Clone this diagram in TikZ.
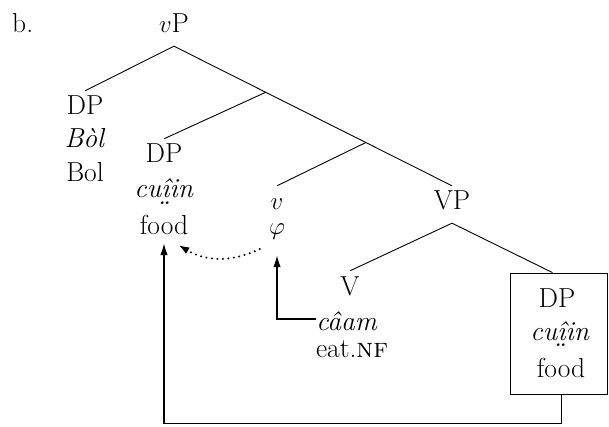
\documentclass[tikz,border=0pt]{standalone}
\usepackage{fontspec}
\usetikzlibrary{arrows.meta}
\usetikzlibrary{calc}

% breathy vowel: two dots below
\newcommand{\brth}[1]{\ooalign{#1\cr\hidewidth\raisebox{-6.5pt}{.\kern-3.2pt.}\kern2pt\hidewidth\cr}}

\begin{document}
\begin{tikzpicture}[x=1pt,y=-1pt,
	cat/.style={inner sep=0pt,text height=24pt,text depth=13pt,font=\fontsize{27.5}{32}\selectfont},
	word/.style={inner sep=0pt,text height=18pt,text depth=8pt,font=\fontsize{27.5}{32}\selectfont},
	branch/.style={line width=0.9pt},
	move/.style={line width=1.5pt,-{Latex[length=12pt,width=7.5pt]}},
	dots/.style={line width=2.2pt,line cap=round,dash pattern=on 0pt off 5.5pt,-{Latex[length=11pt,width=7.5pt]}}]
	\useasboundingbox (0,0) rectangle (609,427);

	\node[word,anchor=base west] (ex) at (12,33) {b.};

	% tree
	\node[cat,anchor=base] (vP) at (174,33) {$v$P};
	\node[cat,anchor=base] (dpA) at (85,115) {DP};
	\node[word,anchor=base] (bolA) at (85,148) {\textit{B\`{o}l}};
	\node[word,anchor=base] (bolB) at (85,182) {Bol};
	\node[cat,anchor=base] (dpB) at (164,163) {DP};
	\node[word,anchor=base] (cuA) at (164,198) {\textit{cu\brth{\^{\i}}in}};
	\node[word,anchor=base] (foodA) at (164,235) {food};
	\node[cat,anchor=base] (v) at (277,210) {$v$};
	\node[word,anchor=base,text depth=20pt] (phi) at (277,235) {$\varphi$};
	\node[cat,anchor=base] (VP) at (452,210) {VP};
	\node[cat,anchor=base] (V) at (350,295) {V};
	\node[word,anchor=base] (caam) at (347,330) {\textit{c\^{a}am}};
	\node[word,anchor=base] (eat) at (352,357) {eat.\textsc{nf}};

	\node[draw,line width=0.8pt,minimum width=97pt,minimum height=121pt] (box) at (558.5,333.5) {};
	\node[cat,anchor=base] (dpC) at (557,307) {DP};
	\node[word,anchor=base] (cuC) at (560,340) {\textit{cu\brth{\^{\i}}in}};
	\node[word,anchor=base] (foodC) at (561,377) {food};

	\coordinate (j1) at ($(vP.south)!0.33!(VP.north)$);
	\coordinate (j2) at ($(vP.south)!0.69!(VP.north)$);

	\draw[branch] (dpA.north) -- (vP.south) -- (VP.north);
	\draw[branch] (j1) -- (dpB.north);
	\draw[branch] (j2) -- (v.north);
	\draw[branch] (V.north) -- (VP.south) -- ([xshift=-6pt]box.north);

	% movement
	\draw[move] ([yshift=11pt]caam.base west) -| (phi.south);
	\draw[move] ([xshift=3pt]box.south) -- ([xshift=3pt,yshift=-29pt]box.south) -| (foodA.south);
	\draw[dots] ([xshift=-9pt,yshift=-14pt]phi.base west) .. controls +(-25,12) and +(30,18) .. ([xshift=-10pt,yshift=-10pt]foodA.base east);

\end{tikzpicture}
\end{document}
